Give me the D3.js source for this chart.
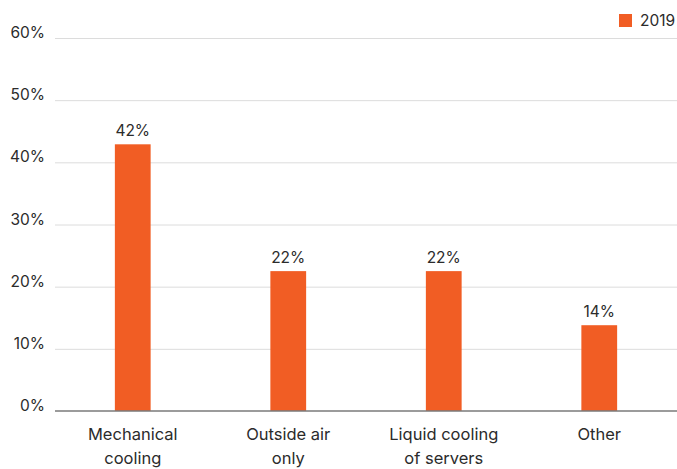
<!DOCTYPE html>
<html><head><meta charset="utf-8">
<script src="https://cdn.jsdelivr.net/npm/d3@7"></script>
<style>
html,body{margin:0;padding:0;background:#fff;}
text{font-family:Inter,"Noto Sans",sans-serif;fill:#2b2b2b;}
</style></head>
<body>
<svg id="chart" width="677" height="469"></svg>
<script>
const categories = [["Mechanical","cooling"],["Outside air","only"],["Liquid cooling","of servers"],["Other"]];
const values = [42.9, 22.5, 22.5, 13.8];
const valueLabels = ["42%","22%","22%","14%"];
const yTicks = [0,10,20,30,40,50,60];
const seriesName = "2019";
const color = "#f15d24";

const svg = d3.select("#chart");
const mLeft = 55, mRight = 677, mTop = 38, mBottom = 411;

const x = d3.scaleBand().domain(d3.range(categories.length)).range([mLeft, mRight]).paddingInner(0.77).paddingOuter(0.385);
const y = d3.scaleLinear().domain([0,60]).range([mBottom, mTop]);

// gridlines
svg.append("g").selectAll("line").data(yTicks.filter(d=>d>0)).join("line")
  .attr("x1", mLeft).attr("x2", mRight)
  .attr("y1", d=>y(d)+0.5).attr("y2", d=>y(d)+0.5)
  .attr("stroke","#dcdcdc").attr("stroke-width",1);

// y labels
svg.append("g").selectAll("text").data(yTicks).join("text")
  .attr("x", 45).attr("y", d=>y(d))
  .attr("text-anchor","end").attr("font-size",15.5)
  .text(d=>d+"%");

// bars
svg.append("g").selectAll("rect").data(values).join("rect")
  .attr("x",(d,i)=>x(i)).attr("width",x.bandwidth())
  .attr("y",d=>y(d)).attr("height",d=>y(0)-y(d))
  .attr("fill",color);

// baseline
svg.append("line").attr("x1",mLeft).attr("x2",mRight)
  .attr("y1",y(0)).attr("y2",y(0))
  .attr("stroke","#7a7a7a").attr("stroke-width",1.5);

// value labels
svg.append("g").selectAll("text").data(values).join("text")
  .attr("x",(d,i)=>x(i)+x.bandwidth()/2).attr("y",d=>y(d)-8)
  .attr("text-anchor","middle").attr("font-size",15.5)
  .text((d,i)=>valueLabels[i]);

// category labels
const cat = svg.append("g").selectAll("text").data(categories).join("text")
  .attr("x",(d,i)=>x(i)+x.bandwidth()/2).attr("y",440)
  .attr("text-anchor","middle").attr("font-size",16.5);
cat.each(function(lines,i){
  d3.select(this).selectAll("tspan").data(lines).join("tspan")
    .attr("x", x(i)+x.bandwidth()/2)
    .attr("dy",(d,j)=>j===0?0:24)
    .text(d=>d);
});

// legend
svg.append("rect").attr("x",619).attr("y",14).attr("width",13).attr("height",13).attr("fill",color);
svg.append("text").attr("x",640).attr("y",26).attr("font-size",15.5).text(seriesName);
</script>
</body></html>
